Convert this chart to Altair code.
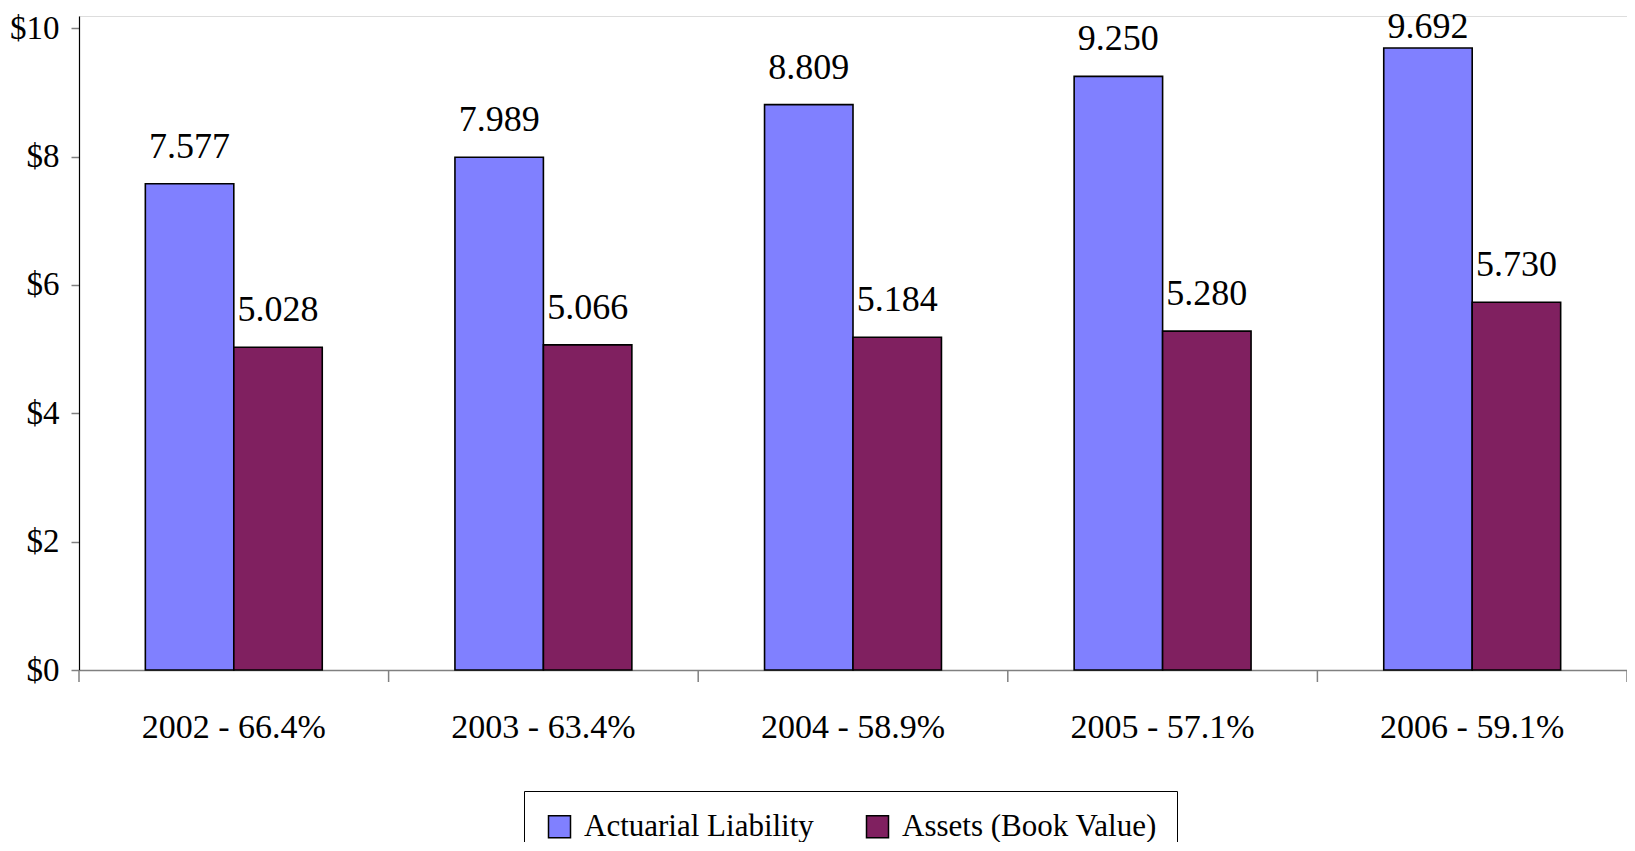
import altair as alt
import pandas as pd

categories = ["2002 - 66.4%", "2003 - 63.4%", "2004 - 58.9%", "2005 - 57.1%", "2006 - 59.1%"]
series = ["Actuarial Liability", "Assets (Book Value)"]
liability = [7.577, 7.989, 8.809, 9.250, 9.692]
assets = [5.028, 5.066, 5.184, 5.280, 5.730]
colors = ["#8080FF", "#802060"]
y_ticks = [0, 2, 4, 6, 8, 10]

rows = []
for c, l, a in zip(categories, liability, assets):
    rows.append({"cat": c, "series": series[0], "value": l})
    rows.append({"cat": c, "series": series[1], "value": a})
df = pd.DataFrame(rows)

FONT = "Liberation Serif"

x_enc = alt.X("cat:N", sort=categories, title=None,
              scale=alt.Scale(paddingInner=0, paddingOuter=0),
              axis=alt.Axis(labelAngle=0, ticks=False, labelFont=FONT, labelFontSize=34,
                            labelColor="black", labelPadding=40, labelLimit=400,
                            domainColor="#808080", domainWidth=1.5))
xo_enc = alt.XOffset("series:N", sort=series,
                     scale=alt.Scale(paddingInner=0, paddingOuter=0.75))
y_enc = alt.Y("value:Q", title=None,
              scale=alt.Scale(domain=[0, 10.19], nice=False, zero=True),
              axis=alt.Axis(values=y_ticks, format="$.0f", grid=False, labelFont=FONT,
                            labelFontSize=33, labelColor="black", labelPadding=12,
                            tickSize=8, tickColor="#808080", tickWidth=1.5,
                            domainColor="black", domainWidth=1.2))

bars = alt.Chart(df).mark_bar(stroke="black", strokeWidth=1.6).encode(
    x=x_enc, xOffset=xo_enc, y=y_enc,
    color=alt.Color("series:N", sort=series,
                    scale=alt.Scale(domain=series, range=colors),
                    legend=alt.Legend(title=None, orient="none", legendX=445, legendY=775,
                                      direction="horizontal", strokeColor="black",
                                      padding=20, symbolType="square", symbolSize=484,
                                      symbolStrokeColor="black", symbolStrokeWidth=1.5,
                                      labelFont=FONT, labelFontSize=31, labelColor="black",
                                      labelOffset=9, columnPadding=48, labelLimit=400)),
)

# the tallest value's label sits closer to its bar (as in the reference, kept inside the frame)
top_val = max(liability)
labels = alt.Chart(df).transform_filter(alt.datum.value < top_val).mark_text(
    font=FONT, fontSize=36, baseline="alphabetic", dy=-26, color="black").encode(
    x=alt.X("cat:N", sort=categories), xOffset=alt.XOffset("series:N", sort=series),
    y="value:Q", text=alt.Text("value:Q", format=".3f"))
top_label = alt.Chart(df).transform_filter(alt.datum.value >= top_val).mark_text(
    font=FONT, fontSize=36, baseline="alphabetic", dy=-10, color="black").encode(
    x=alt.X("cat:N", sort=categories), xOffset=alt.XOffset("series:N", sort=series),
    y="value:Q", text=alt.Text("value:Q", format=".3f"))

tick_df = pd.DataFrame({"cat": categories})
ticks = alt.Chart(tick_df).mark_rule(color="#808080", strokeWidth=1.5).encode(
    x=alt.X("cat:N", sort=categories, bandPosition=0),
    y=alt.value(654), y2=alt.value(666))
end_tick = alt.Chart(pd.DataFrame({"cat": categories[-1:]})).mark_rule(
    color="#808080", strokeWidth=1.5).encode(
    x=alt.X("cat:N", sort=categories, bandPosition=1),
    y=alt.value(654), y2=alt.value(666))

chart = alt.layer(bars, labels, top_label, ticks, end_tick).properties(
    width=1548, height=654,
    autosize=alt.AutoSizeParams(type="none"),
    padding={"left": 71, "top": 8, "right": 0, "bottom": 172},
).configure_view(stroke=None).configure(background="white")

chart.save("out.html", embed_options={"renderer": "svg", "actions": False})
